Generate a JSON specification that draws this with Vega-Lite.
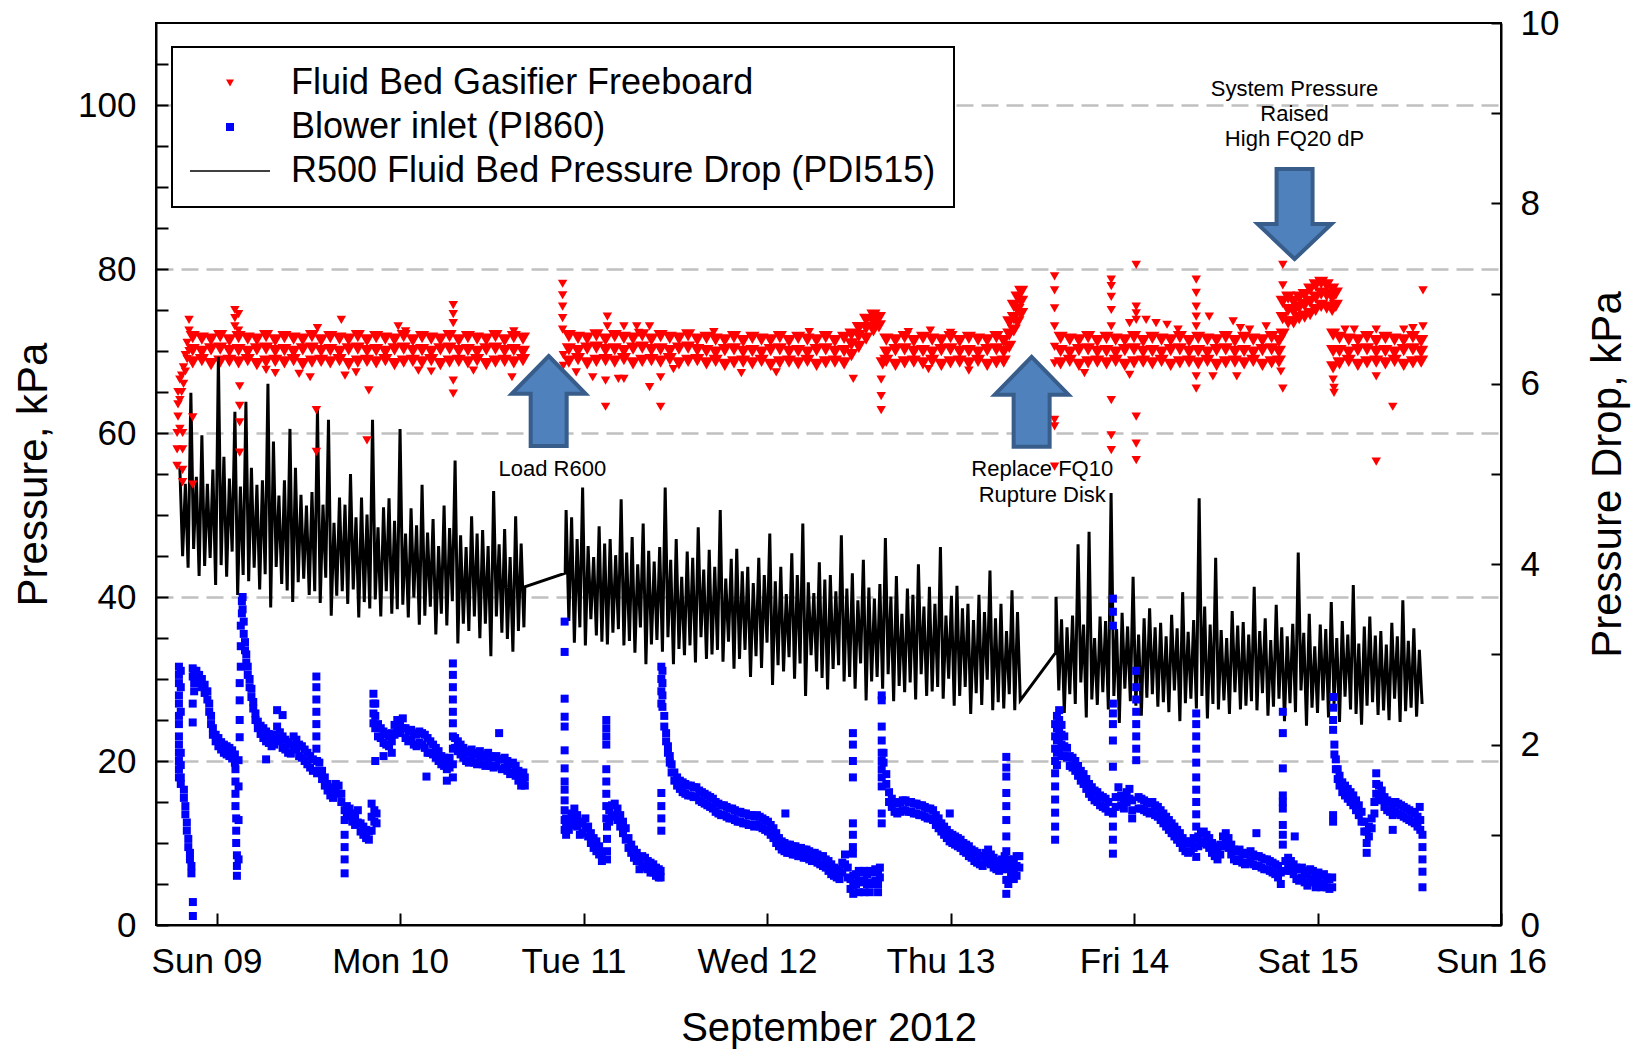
{
"$schema": "https://vega.github.io/schema/vega-lite/v6.json",
"width": 1345,
"height": 902,
"autosize": {"type": "none"},
"padding": {"left": 156, "top": 23, "right": 134, "bottom": 126},
"config": {
  "font": "Liberation Sans",
  "view": {"stroke": "black", "strokeWidth": 2},
  "axis": {"domainColor": "black", "domainWidth": 2, "tickColor": "black", "tickWidth": 2, "labelColor": "black", "titleColor": "black", "labelFontSize": 35, "titleFontSize": 42, "titleFontWeight": "normal", "grid": false, "labelFont": "Liberation Sans", "titleFont": "Liberation Sans", "labelOverlap": false, "labelFlush": false}
},
"datasets": {
"pd": [
{"d":8.800,"p":5.07},{"d":8.815,"p":4.09},{"d":8.830,"p":4.89},{"d":8.845,"p":3.96},{"d":8.860,"p":5.9},{"d":8.875,"p":4.17},{"d":8.890,"p":4.97},{"d":8.905,"p":3.87},{"d":8.920,"p":5.43},{"d":8.935,"p":3.98},{"d":8.950,"p":4.89},{"d":8.965,"p":4.07},{"d":8.980,"p":5.05},{"d":8.995,"p":3.77},{"d":9.010,"p":6.3},{"d":9.025,"p":3.99},{"d":9.040,"p":5.19},{"d":9.055,"p":3.86},{"d":9.070,"p":4.95},{"d":9.085,"p":4.14},{"d":9.100,"p":5.69},{"d":9.115,"p":3.66},{"d":9.130,"p":4.86},{"d":9.145,"p":3.88},{"d":9.160,"p":5.8},{"d":9.175,"p":3.81},{"d":9.190,"p":5.07},{"d":9.205,"p":3.96},{"d":9.220,"p":4.88},{"d":9.235,"p":3.72},{"d":9.250,"p":4.93},{"d":9.265,"p":3.89},{"d":9.280,"p":6.0},{"d":9.295,"p":3.52},{"d":9.310,"p":5.36},{"d":9.325,"p":3.97},{"d":9.340,"p":4.76},{"d":9.355,"p":3.78},{"d":9.370,"p":4.93},{"d":9.385,"p":3.71},{"d":9.400,"p":5.5},{"d":9.415,"p":3.58},{"d":9.430,"p":5.07},{"d":9.445,"p":3.80},{"d":9.460,"p":4.77},{"d":9.475,"p":3.84},{"d":9.490,"p":4.65},{"d":9.505,"p":3.66},{"d":9.520,"p":4.80},{"d":9.535,"p":3.70},{"d":9.550,"p":5.72},{"d":9.565,"p":3.57},{"d":9.580,"p":4.66},{"d":9.595,"p":3.85},{"d":9.610,"p":5.6},{"d":9.625,"p":3.43},{"d":9.640,"p":4.46},{"d":9.655,"p":3.65},{"d":9.670,"p":4.74},{"d":9.685,"p":3.70},{"d":9.700,"p":4.66},{"d":9.715,"p":3.56},{"d":9.730,"p":5.00},{"d":9.745,"p":3.72},{"d":9.760,"p":4.52},{"d":9.775,"p":3.41},{"d":9.790,"p":4.74},{"d":9.805,"p":3.58},{"d":9.820,"p":4.55},{"d":9.835,"p":3.51},{"d":9.850,"p":5.6},{"d":9.865,"p":3.61},{"d":9.880,"p":4.41},{"d":9.895,"p":3.42},{"d":9.910,"p":4.63},{"d":9.925,"p":3.70},{"d":9.940,"p":4.73},{"d":9.955,"p":3.45},{"d":9.970,"p":4.48},{"d":9.985,"p":3.50},{"d":10.000,"p":5.5},{"d":10.015,"p":3.55},{"d":10.030,"p":4.34},{"d":10.045,"p":3.41},{"d":10.060,"p":4.62},{"d":10.075,"p":3.63},{"d":10.090,"p":4.43},{"d":10.105,"p":3.33},{"d":10.120,"p":4.88},{"d":10.135,"p":3.43},{"d":10.150,"p":4.35},{"d":10.165,"p":3.53},{"d":10.180,"p":4.50},{"d":10.195,"p":3.22},{"d":10.210,"p":4.20},{"d":10.225,"p":3.45},{"d":10.240,"p":4.65},{"d":10.255,"p":3.32},{"d":10.270,"p":4.40},{"d":10.285,"p":3.59},{"d":10.300,"p":5.15},{"d":10.315,"p":3.12},{"d":10.330,"p":4.32},{"d":10.345,"p":3.34},{"d":10.360,"p":4.19},{"d":10.375,"p":3.26},{"d":10.390,"p":4.53},{"d":10.405,"p":3.42},{"d":10.420,"p":4.34},{"d":10.435,"p":3.18},{"d":10.450,"p":4.38},{"d":10.465,"p":3.34},{"d":10.480,"p":4.20},{"d":10.495,"p":2.98},{"d":10.510,"p":4.81},{"d":10.525,"p":3.42},{"d":10.540,"p":4.22},{"d":10.555,"p":3.24},{"d":10.570,"p":4.39},{"d":10.585,"p":3.17},{"d":10.600,"p":4.08},{"d":10.615,"p":3.03},{"d":10.630,"p":4.53},{"d":10.645,"p":3.26},{"d":10.660,"p":4.23},{"d":10.675,"p":3.30},{"d":10.680,"p":3.75},
{"d":10.900,"p":3.90},
{"d":10.905,"p":4.60},{"d":10.920,"p":3.37},{"d":10.935,"p":4.52},{"d":10.950,"p":3.13},{"d":10.965,"p":4.28},{"d":10.980,"p":3.30},{"d":10.995,"p":4.85},{"d":11.010,"p":3.10},{"d":11.025,"p":4.20},{"d":11.040,"p":3.39},{"d":11.055,"p":4.08},{"d":11.070,"p":3.21},{"d":11.085,"p":4.42},{"d":11.100,"p":3.14},{"d":11.115,"p":4.23},{"d":11.130,"p":3.11},{"d":11.145,"p":4.28},{"d":11.160,"p":3.24},{"d":11.175,"p":4.10},{"d":11.190,"p":3.28},{"d":11.205,"p":4.72},{"d":11.220,"p":3.10},{"d":11.235,"p":4.13},{"d":11.250,"p":3.15},{"d":11.265,"p":4.30},{"d":11.280,"p":3.02},{"d":11.295,"p":4.00},{"d":11.310,"p":3.30},{"d":11.325,"p":4.45},{"d":11.340,"p":2.89},{"d":11.355,"p":4.15},{"d":11.370,"p":3.11},{"d":11.385,"p":4.03},{"d":11.400,"p":3.16},{"d":11.415,"p":4.19},{"d":11.430,"p":3.03},{"d":11.445,"p":4.85},{"d":11.460,"p":3.19},{"d":11.475,"p":4.05},{"d":11.490,"p":2.89},{"d":11.505,"p":4.28},{"d":11.520,"p":3.06},{"d":11.535,"p":3.86},{"d":11.550,"p":2.99},{"d":11.565,"p":4.14},{"d":11.580,"p":3.10},{"d":11.595,"p":4.07},{"d":11.610,"p":2.91},{"d":11.625,"p":4.41},{"d":11.640,"p":3.19},{"d":11.655,"p":3.94},{"d":11.670,"p":2.95},{"d":11.685,"p":4.16},{"d":11.700,"p":3.00},{"d":11.715,"p":3.97},{"d":11.730,"p":3.05},{"d":11.745,"p":4.60},{"d":11.760,"p":2.92},{"d":11.775,"p":3.84},{"d":11.790,"p":3.14},{"d":11.805,"p":4.06},{"d":11.820,"p":2.84},{"d":11.835,"p":4.17},{"d":11.850,"p":2.95},{"d":11.865,"p":3.92},{"d":11.880,"p":3.05},{"d":11.895,"p":3.97},{"d":11.910,"p":2.75},{"d":11.925,"p":3.79},{"d":11.940,"p":2.98},{"d":11.955,"p":4.07},{"d":11.970,"p":2.85},{"d":11.985,"p":3.88},{"d":12.000,"p":3.13},{"d":12.015,"p":4.34},{"d":12.030,"p":2.66},{"d":12.045,"p":3.81},{"d":12.060,"p":2.88},{"d":12.075,"p":3.97},{"d":12.090,"p":2.81},{"d":12.105,"p":3.67},{"d":12.120,"p":2.97},{"d":12.135,"p":4.12},{"d":12.150,"p":2.73},{"d":12.165,"p":3.88},{"d":12.180,"p":2.90},{"d":12.195,"p":4.45},{"d":12.210,"p":2.54},{"d":12.225,"p":3.80},{"d":12.240,"p":2.99},{"d":12.255,"p":3.68},{"d":12.270,"p":2.81},{"d":12.285,"p":4.02},{"d":12.300,"p":2.74},{"d":12.315,"p":3.83},{"d":12.330,"p":2.61},{"d":12.345,"p":3.88},{"d":12.360,"p":2.84},{"d":12.375,"p":3.70},{"d":12.390,"p":2.88},{"d":12.405,"p":4.32},{"d":12.420,"p":2.70},{"d":12.435,"p":3.73},{"d":12.450,"p":2.75},{"d":12.465,"p":3.90},{"d":12.480,"p":2.62},{"d":12.495,"p":3.60},{"d":12.510,"p":2.90},{"d":12.525,"p":4.05},{"d":12.540,"p":2.49},{"d":12.555,"p":3.74},{"d":12.570,"p":2.70},{"d":12.585,"p":3.62},{"d":12.600,"p":2.75},{"d":12.615,"p":3.78},{"d":12.630,"p":2.62},{"d":12.645,"p":4.29},{"d":12.660,"p":2.78},{"d":12.675,"p":3.64},{"d":12.690,"p":2.48},{"d":12.705,"p":3.87},{"d":12.720,"p":2.65},{"d":12.735,"p":3.45},{"d":12.750,"p":2.58},{"d":12.765,"p":3.73},{"d":12.780,"p":2.69},{"d":12.795,"p":3.66},{"d":12.810,"p":2.50},{"d":12.825,"p":4.00},{"d":12.840,"p":2.78},{"d":12.855,"p":3.53},{"d":12.870,"p":2.54},{"d":12.885,"p":3.75},{"d":12.900,"p":2.59},{"d":12.915,"p":3.56},{"d":12.930,"p":2.64},{"d":12.945,"p":4.19},{"d":12.960,"p":2.51},{"d":12.975,"p":3.43},{"d":12.990,"p":2.73},{"d":13.005,"p":3.65},{"d":13.020,"p":2.43},{"d":13.035,"p":3.76},{"d":13.050,"p":2.54},{"d":13.065,"p":3.51},{"d":13.080,"p":2.64},{"d":13.095,"p":3.56},{"d":13.110,"p":2.34},{"d":13.125,"p":3.38},{"d":13.140,"p":2.57},{"d":13.155,"p":3.66},{"d":13.170,"p":2.44},{"d":13.185,"p":3.47},{"d":13.200,"p":2.72},{"d":13.215,"p":3.93},{"d":13.230,"p":2.38},{"d":13.245,"p":3.40},{"d":13.260,"p":2.47},{"d":13.275,"p":3.56},{"d":13.290,"p":2.40},{"d":13.305,"p":3.26},{"d":13.320,"p":2.56},{"d":13.335,"p":3.71},{"d":13.350,"p":2.38},{"d":13.365,"p":3.47},{"d":13.380,"p":2.49},
{"d":13.573,"p":3.02},
{"d":13.575,"p":3.64},{"d":13.590,"p":2.60},{"d":13.605,"p":3.39},{"d":13.620,"p":2.35},{"d":13.635,"p":3.30},{"d":13.650,"p":2.56},{"d":13.665,"p":3.43},{"d":13.680,"p":2.45},{"d":13.695,"p":4.22},{"d":13.710,"p":2.69},{"d":13.725,"p":3.33},{"d":13.740,"p":2.30},{"d":13.755,"p":4.36},{"d":13.770,"p":2.50},{"d":13.785,"p":3.18},{"d":13.800,"p":2.44},{"d":13.815,"p":3.42},{"d":13.830,"p":2.58},{"d":13.845,"p":3.37},{"d":13.860,"p":2.39},{"d":13.875,"p":4.79},{"d":13.890,"p":2.54},{"d":13.905,"p":3.28},{"d":13.920,"p":2.24},{"d":13.935,"p":3.46},{"d":13.950,"p":2.62},{"d":13.965,"p":3.31},{"d":13.980,"p":2.48},{"d":13.995,"p":3.86},{"d":14.010,"p":2.43},{"d":14.025,"p":3.22},{"d":14.040,"p":2.32},{"d":14.055,"p":3.40},{"d":14.070,"p":2.52},{"d":14.085,"p":3.51},{"d":14.100,"p":2.56},{"d":14.115,"p":3.30},{"d":14.130,"p":2.42},{"d":14.145,"p":3.35},{"d":14.160,"p":2.47},{"d":14.175,"p":3.20},{"d":14.190,"p":2.36},{"d":14.205,"p":3.44},{"d":14.220,"p":2.60},{"d":14.235,"p":3.29},{"d":14.250,"p":2.26},{"d":14.265,"p":3.69},{"d":14.280,"p":2.46},{"d":14.295,"p":3.25},{"d":14.310,"p":2.51},{"d":14.325,"p":3.38},{"d":14.340,"p":2.40},{"d":14.355,"p":4.73},{"d":14.370,"p":2.54},{"d":14.385,"p":3.53},{"d":14.400,"p":2.29},{"d":14.415,"p":3.33},{"d":14.430,"p":2.45},{"d":14.445,"p":4.07},{"d":14.460,"p":2.39},{"d":14.475,"p":3.27},{"d":14.490,"p":2.49},{"d":14.505,"p":3.18},{"d":14.520,"p":2.34},{"d":14.535,"p":3.48},{"d":14.550,"p":2.58},{"d":14.565,"p":3.32},{"d":14.580,"p":2.39},{"d":14.595,"p":3.36},{"d":14.610,"p":2.43},{"d":14.625,"p":3.22},{"d":14.640,"p":2.48},{"d":14.655,"p":3.75},{"d":14.670,"p":2.38},{"d":14.685,"p":3.26},{"d":14.700,"p":2.57},{"d":14.715,"p":3.40},{"d":14.730,"p":2.32},{"d":14.745,"p":3.16},{"d":14.760,"p":2.42},{"d":14.775,"p":3.55},{"d":14.790,"p":2.51},{"d":14.805,"p":3.30},{"d":14.820,"p":2.26},{"d":14.835,"p":3.20},{"d":14.850,"p":2.46},{"d":14.865,"p":3.34},{"d":14.880,"p":2.36},{"d":14.895,"p":4.13},{"d":14.910,"p":2.60},{"d":14.925,"p":3.24},{"d":14.940,"p":2.21},{"d":14.955,"p":3.45},{"d":14.970,"p":2.41},{"d":14.985,"p":3.09},{"d":15.000,"p":2.35},{"d":15.015,"p":3.33},{"d":15.030,"p":2.49},{"d":15.045,"p":3.28},{"d":15.060,"p":2.30},{"d":15.075,"p":3.58},{"d":15.090,"p":2.45},{"d":15.105,"p":3.18},{"d":15.120,"p":2.25},{"d":15.135,"p":3.37},{"d":15.150,"p":2.53},{"d":15.165,"p":3.22},{"d":15.180,"p":2.39},{"d":15.195,"p":3.77},{"d":15.210,"p":2.34},{"d":15.225,"p":3.12},{"d":15.240,"p":2.22},{"d":15.255,"p":3.31},{"d":15.270,"p":2.43},{"d":15.285,"p":3.42},{"d":15.300,"p":2.47},{"d":15.315,"p":3.21},{"d":15.330,"p":2.33},{"d":15.345,"p":3.26},{"d":15.360,"p":2.38},{"d":15.375,"p":3.11},{"d":15.390,"p":2.27},{"d":15.405,"p":3.35},{"d":15.420,"p":2.51},{"d":15.435,"p":3.20},{"d":15.450,"p":2.25},{"d":15.465,"p":3.60},{"d":15.480,"p":2.37},{"d":15.495,"p":3.15},{"d":15.510,"p":2.41},{"d":15.525,"p":3.29},{"d":15.540,"p":2.31},{"d":15.555,"p":3.05},{"d":15.570,"p":2.45}
],
"redband": [
{"d":8.87,"v":68.6},{"d":8.87,"v":70.1},{"d":8.87,"v":71.7},{"d":8.92,"v":68.9},{"d":8.92,"v":69.9},{"d":8.92,"v":71.5},{"d":8.97,"v":68.4},{"d":8.97,"v":70.2},{"d":8.97,"v":71.4},{"d":9.02,"v":68.7},{"d":9.02,"v":70.3},{"d":9.02,"v":71.8},{"d":9.07,"v":68.8},{"d":9.07,"v":70},{"d":9.07,"v":71.3},
{"d":9.12,"v":68.6},{"d":9.12,"v":70.1},{"d":9.12,"v":71.7},{"d":9.17,"v":68.9},{"d":9.17,"v":69.9},{"d":9.17,"v":71.5},{"d":9.22,"v":68.4},{"d":9.22,"v":70.2},{"d":9.22,"v":71.4},{"d":9.27,"v":68.7},{"d":9.27,"v":70.3},{"d":9.27,"v":71.8},{"d":9.32,"v":68.8},{"d":9.32,"v":70},{"d":9.32,"v":71.3},
{"d":9.37,"v":68.6},{"d":9.37,"v":70.1},{"d":9.37,"v":71.7},{"d":9.42,"v":68.9},{"d":9.42,"v":69.9},{"d":9.42,"v":71.5},{"d":9.47,"v":68.4},{"d":9.47,"v":70.2},{"d":9.47,"v":71.4},{"d":9.52,"v":68.7},{"d":9.52,"v":70.3},{"d":9.52,"v":71.8},{"d":9.57,"v":68.8},{"d":9.57,"v":70},{"d":9.57,"v":71.3},
{"d":9.62,"v":68.6},{"d":9.62,"v":70.1},{"d":9.62,"v":71.7},{"d":9.67,"v":68.9},{"d":9.67,"v":69.9},{"d":9.67,"v":71.5},{"d":9.72,"v":68.4},{"d":9.72,"v":70.2},{"d":9.72,"v":71.4},{"d":9.77,"v":68.7},{"d":9.77,"v":70.3},{"d":9.77,"v":71.8},{"d":9.82,"v":68.8},{"d":9.82,"v":70},{"d":9.82,"v":71.3},
{"d":9.87,"v":68.6},{"d":9.87,"v":70.1},{"d":9.87,"v":71.7},{"d":9.92,"v":68.9},{"d":9.92,"v":69.9},{"d":9.92,"v":71.5},{"d":9.97,"v":68.4},{"d":9.97,"v":70.2},{"d":9.97,"v":71.4},{"d":10.02,"v":68.7},{"d":10.02,"v":70.3},{"d":10.02,"v":71.8},{"d":10.07,"v":68.8},{"d":10.07,"v":70},{"d":10.07,"v":71.3},
{"d":10.12,"v":68.6},{"d":10.12,"v":70.1},{"d":10.12,"v":71.7},{"d":10.17,"v":68.9},{"d":10.17,"v":69.9},{"d":10.17,"v":71.5},{"d":10.22,"v":68.4},{"d":10.22,"v":70.2},{"d":10.22,"v":71.4},{"d":10.27,"v":68.7},{"d":10.27,"v":70.3},{"d":10.27,"v":71.8},{"d":10.32,"v":68.8},{"d":10.32,"v":70},{"d":10.32,"v":71.3},
{"d":10.37,"v":68.6},{"d":10.37,"v":70.1},{"d":10.37,"v":71.7},{"d":10.42,"v":68.9},{"d":10.42,"v":69.9},{"d":10.42,"v":71.5},{"d":10.47,"v":68.4},{"d":10.47,"v":70.2},{"d":10.47,"v":71.4},{"d":10.52,"v":68.7},{"d":10.52,"v":70.3},{"d":10.52,"v":71.8},{"d":10.57,"v":68.8},{"d":10.57,"v":70},{"d":10.57,"v":71.3},
{"d":10.62,"v":68.6},{"d":10.62,"v":70.1},{"d":10.62,"v":71.7},{"d":10.67,"v":68.9},{"d":10.67,"v":69.9},{"d":10.67,"v":71.5},
{"d":10.92,"v":68.7},{"d":10.92,"v":70.2},{"d":10.92,"v":71.8},{"d":10.97,"v":69},{"d":10.97,"v":70},{"d":10.97,"v":71.6},{"d":11.02,"v":68.5},{"d":11.02,"v":70.3},{"d":11.02,"v":71.5},{"d":11.07,"v":68.8},{"d":11.07,"v":70.4},{"d":11.07,"v":71.9},{"d":11.12,"v":68.9},{"d":11.12,"v":70.1},{"d":11.12,"v":71.4},
{"d":11.17,"v":68.7},{"d":11.17,"v":70.2},{"d":11.17,"v":71.8},{"d":11.22,"v":69},{"d":11.22,"v":70},{"d":11.22,"v":71.6},{"d":11.27,"v":68.5},{"d":11.27,"v":70.3},{"d":11.27,"v":71.5},{"d":11.32,"v":68.8},{"d":11.32,"v":70.4},{"d":11.32,"v":71.9},{"d":11.37,"v":68.9},{"d":11.37,"v":70.1},{"d":11.37,"v":71.4},
{"d":11.42,"v":68.7},{"d":11.42,"v":70.2},{"d":11.42,"v":71.8},{"d":11.47,"v":69},{"d":11.47,"v":70},{"d":11.47,"v":71.6},{"d":11.52,"v":68.5},{"d":11.52,"v":70.3},{"d":11.52,"v":71.5},{"d":11.57,"v":68.8},{"d":11.57,"v":70.4},{"d":11.57,"v":71.9},{"d":11.62,"v":68.9},{"d":11.62,"v":70.1},{"d":11.62,"v":71.4},
{"d":11.67,"v":68.5},{"d":11.67,"v":70},{"d":11.67,"v":71.6},{"d":11.72,"v":68.8},{"d":11.72,"v":69.8},{"d":11.72,"v":71.4},{"d":11.77,"v":68.3},{"d":11.77,"v":70.1},{"d":11.77,"v":71.3},{"d":11.82,"v":68.6},{"d":11.82,"v":70.2},{"d":11.82,"v":71.7},{"d":11.87,"v":68.7},{"d":11.87,"v":69.9},{"d":11.87,"v":71.2},
{"d":11.92,"v":68.5},{"d":11.92,"v":70},{"d":11.92,"v":71.6},{"d":11.97,"v":68.8},{"d":11.97,"v":69.8},{"d":11.97,"v":71.4},{"d":12.02,"v":68.3},{"d":12.02,"v":70.1},{"d":12.02,"v":71.3},{"d":12.07,"v":68.6},{"d":12.07,"v":70.2},{"d":12.07,"v":71.7},{"d":12.12,"v":68.7},{"d":12.12,"v":69.9},{"d":12.12,"v":71.2},
{"d":12.17,"v":68.5},{"d":12.17,"v":70},{"d":12.17,"v":71.6},{"d":12.22,"v":68.8},{"d":12.22,"v":69.8},{"d":12.22,"v":71.4},{"d":12.27,"v":68.3},{"d":12.27,"v":70.1},{"d":12.27,"v":71.3},{"d":12.32,"v":68.6},{"d":12.32,"v":70.2},{"d":12.32,"v":71.7},{"d":12.37,"v":68.7},{"d":12.37,"v":69.9},{"d":12.37,"v":71.2},{"d":12.42,"v":68.5},{"d":12.42,"v":70},{"d":12.42,"v":71.6},
{"d":12.46,"v":69.5},{"d":12.46,"v":70.8},{"d":12.46,"v":72},{"d":12.5,"v":70.5},{"d":12.5,"v":71.8},{"d":12.5,"v":72.8},{"d":12.54,"v":71.5},{"d":12.54,"v":72.8},{"d":12.54,"v":73.8},{"d":12.58,"v":72.5},{"d":12.58,"v":73.5},{"d":12.58,"v":74.3},{"d":12.61,"v":73},{"d":12.61,"v":74},{"d":12.63,"v":68.5},
{"d":12.65,"v":68.8},{"d":12.65,"v":69.8},{"d":12.65,"v":71.4},{"d":12.7,"v":68.3},{"d":12.7,"v":70.1},{"d":12.7,"v":71.3},{"d":12.75,"v":68.6},{"d":12.75,"v":70.2},{"d":12.75,"v":71.7},{"d":12.8,"v":68.7},{"d":12.8,"v":69.9},{"d":12.8,"v":71.2},{"d":12.85,"v":68.5},{"d":12.85,"v":70},{"d":12.85,"v":71.6},
{"d":12.9,"v":68.8},{"d":12.9,"v":69.8},{"d":12.9,"v":71.4},{"d":12.95,"v":68.3},{"d":12.95,"v":70.1},{"d":12.95,"v":71.3},{"d":13,"v":68.6},{"d":13,"v":70.2},{"d":13,"v":71.7},{"d":13.05,"v":68.7},{"d":13.05,"v":69.9},{"d":13.05,"v":71.2},{"d":13.1,"v":68.5},{"d":13.1,"v":70},{"d":13.1,"v":71.6},
{"d":13.15,"v":68.8},{"d":13.15,"v":69.8},{"d":13.15,"v":71.4},{"d":13.2,"v":68.3},{"d":13.2,"v":70.1},{"d":13.2,"v":71.3},{"d":13.25,"v":68.6},{"d":13.25,"v":70.2},{"d":13.25,"v":71.7},{"d":13.29,"v":68.7},{"d":13.29,"v":69.9},{"d":13.29,"v":71.2},
{"d":13.32,"v":70.5},{"d":13.32,"v":72},{"d":13.32,"v":73.5},{"d":13.345,"v":72.5},{"d":13.345,"v":74},{"d":13.345,"v":75.5},{"d":13.365,"v":73.5},{"d":13.365,"v":75},{"d":13.365,"v":76.5},{"d":13.385,"v":74.5},{"d":13.385,"v":76},{"d":13.385,"v":77.2},
{"d":13.6,"v":68.5},{"d":13.6,"v":70},{"d":13.6,"v":71.6},{"d":13.65,"v":68.8},{"d":13.65,"v":69.8},{"d":13.65,"v":71.4},{"d":13.7,"v":68.3},{"d":13.7,"v":70.1},{"d":13.7,"v":71.3},{"d":13.75,"v":68.6},{"d":13.75,"v":70.2},{"d":13.75,"v":71.7},{"d":13.8,"v":68.7},{"d":13.8,"v":69.9},{"d":13.8,"v":71.2},
{"d":13.85,"v":68.5},{"d":13.85,"v":70},{"d":13.85,"v":71.6},{"d":13.9,"v":68.8},{"d":13.9,"v":69.8},{"d":13.9,"v":71.4},{"d":13.95,"v":68.3},{"d":13.95,"v":70.1},{"d":13.95,"v":71.3},{"d":14,"v":68.6},{"d":14,"v":70.2},{"d":14,"v":71.7},{"d":14.05,"v":68.7},{"d":14.05,"v":69.9},{"d":14.05,"v":71.2},
{"d":14.1,"v":68.5},{"d":14.1,"v":70},{"d":14.1,"v":71.6},{"d":14.15,"v":68.8},{"d":14.15,"v":69.8},{"d":14.15,"v":71.4},{"d":14.2,"v":68.3},{"d":14.2,"v":70.1},{"d":14.2,"v":71.3},{"d":14.25,"v":68.6},{"d":14.25,"v":70.2},{"d":14.25,"v":71.7},{"d":14.3,"v":68.7},{"d":14.3,"v":69.9},{"d":14.3,"v":71.2},
{"d":14.35,"v":68.5},{"d":14.35,"v":70},{"d":14.35,"v":71.6},{"d":14.4,"v":68.8},{"d":14.4,"v":69.8},{"d":14.4,"v":71.4},{"d":14.45,"v":68.3},{"d":14.45,"v":70.1},{"d":14.45,"v":71.3},{"d":14.5,"v":68.6},{"d":14.5,"v":70.2},{"d":14.5,"v":71.7},{"d":14.55,"v":68.7},{"d":14.55,"v":69.9},{"d":14.55,"v":71.2},
{"d":14.6,"v":68.5},{"d":14.6,"v":70},{"d":14.6,"v":71.6},{"d":14.65,"v":68.8},{"d":14.65,"v":69.8},{"d":14.65,"v":71.4},{"d":14.7,"v":68.3},{"d":14.7,"v":70.1},{"d":14.7,"v":71.3},{"d":14.75,"v":68.6},{"d":14.75,"v":70.2},{"d":14.75,"v":71.7},{"d":14.79,"v":68.7},{"d":14.79,"v":69.9},{"d":14.79,"v":71.2},
{"d":14.81,"v":72},{"d":14.81,"v":74},{"d":14.81,"v":76},{"d":14.84,"v":73.5},{"d":14.84,"v":75},{"d":14.84,"v":76.5},{"d":14.87,"v":73.5},{"d":14.87,"v":74.8},{"d":14.87,"v":76},{"d":14.9,"v":74},{"d":14.9,"v":75.3},{"d":14.9,"v":76.5},{"d":14.93,"v":74.2},{"d":14.93,"v":75.6},{"d":14.93,"v":76.8},{"d":14.96,"v":74.5},{"d":14.96,"v":76},{"d":14.96,"v":77.5},{"d":14.99,"v":75},{"d":14.99,"v":76.5},{"d":14.99,"v":78},{"d":15.02,"v":75.5},{"d":15.02,"v":77},{"d":15.02,"v":78.3},{"d":15.05,"v":75.3},{"d":15.05,"v":76.8},{"d":15.05,"v":78},{"d":15.08,"v":75},{"d":15.08,"v":76.5},{"d":15.08,"v":77.5},{"d":15.1,"v":75.5},{"d":15.1,"v":77},
{"d":15.085,"v":72},{"d":15.085,"v":70},{"d":15.085,"v":68},
{"d":15.12,"v":68.5},{"d":15.12,"v":70},{"d":15.12,"v":71.6},{"d":15.17,"v":68.8},{"d":15.17,"v":69.8},{"d":15.17,"v":71.4},{"d":15.22,"v":68.3},{"d":15.22,"v":70.1},{"d":15.22,"v":71.3},{"d":15.27,"v":68.6},{"d":15.27,"v":70.2},{"d":15.27,"v":71.7},{"d":15.32,"v":68.7},{"d":15.32,"v":69.9},{"d":15.32,"v":71.2},
{"d":15.37,"v":68.5},{"d":15.37,"v":70},{"d":15.37,"v":71.6},{"d":15.42,"v":68.8},{"d":15.42,"v":69.8},{"d":15.42,"v":71.4},{"d":15.47,"v":68.3},{"d":15.47,"v":70.1},{"d":15.47,"v":71.3},{"d":15.52,"v":68.6},{"d":15.52,"v":70.2},{"d":15.52,"v":71.7},{"d":15.565,"v":68.7},{"d":15.565,"v":69.9},{"d":15.565,"v":71.2}
],
"redout": [
{"d":8.785,"v":56},{"d":8.785,"v":58},{"d":8.785,"v":60},{"d":8.79,"v":62},{"d":8.79,"v":63.5},{"d":8.79,"v":65},{"d":8.8,"v":60.5},{"d":8.8,"v":64},{"d":8.8,"v":66.5},{"d":8.815,"v":60},{"d":8.815,"v":58},{"d":8.815,"v":55.5},{"d":8.815,"v":54},{"d":8.81,"v":67},{"d":8.81,"v":65},{"d":8.82,"v":68},{"d":8.82,"v":66},{"d":8.83,"v":69.5},{"d":8.83,"v":67.5},{"d":8.84,"v":71},{"d":8.84,"v":69},{"d":8.85,"v":72.5},{"d":8.85,"v":73.8},{"d":8.85,"v":70},{"d":8.87,"v":53.7},{"d":8.87,"v":61.9},
{"d":9.1,"v":75},{"d":9.1,"v":74},{"d":9.1,"v":73},{"d":9.12,"v":74.5},{"d":9.12,"v":72.5},{"d":9.126,"v":65.7},{"d":9.126,"v":63.3},{"d":9.126,"v":61.3},{"d":9.126,"v":57.6},{"d":9.27,"v":67.7},{"d":9.32,"v":67.3},{"d":9.45,"v":67.2},{"d":9.51,"v":66.8},{"d":9.544,"v":62.8},{"d":9.544,"v":57.7},{"d":9.55,"v":72.8},{"d":9.68,"v":73.8},{"d":9.7,"v":67},{"d":9.76,"v":67.4},{"d":9.82,"v":59.1},{"d":9.83,"v":65.2},{"d":9.99,"v":73},{"d":10.03,"v":72.4},{"d":10.1,"v":67.6},{"d":10.17,"v":67.5},{"d":10.29,"v":75.6},{"d":10.29,"v":74.5},{"d":10.29,"v":73.4},{"d":10.29,"v":66.4},{"d":10.29,"v":64.8},{"d":10.4,"v":67.6},{"d":10.61,"v":66.8},{"d":10.62,"v":72.4},
{"d":10.886,"v":78.2},{"d":10.886,"v":76.8},{"d":10.886,"v":75.4},{"d":10.886,"v":74},{"d":10.886,"v":72.6},{"d":10.89,"v":69.5},{"d":10.89,"v":68.2},
{"d":10.96,"v":67.4},{"d":11.05,"v":66.8},{"d":11.12,"v":66.4},{"d":11.12,"v":63.2},{"d":11.13,"v":74.2},{"d":11.13,"v":73},{"d":11.19,"v":66.6},{"d":11.22,"v":66.6},{"d":11.22,"v":73},{"d":11.29,"v":73},{"d":11.3,"v":72.2},{"d":11.36,"v":73},{"d":11.36,"v":65.6},{"d":11.42,"v":66.8},{"d":11.42,"v":63.2},{"d":11.49,"v":67.8},{"d":11.71,"v":72.3},{"d":11.86,"v":67.3},{"d":12.05,"v":67.4},{"d":12.23,"v":72.3},{"d":12.47,"v":66.6},
{"d":12.622,"v":66.5},{"d":12.622,"v":64.5},{"d":12.622,"v":62.8},
{"d":12.77,"v":72.3},{"d":12.88,"v":67.8},{"d":12.89,"v":72.5},{"d":13,"v":72.2},{"d":13.1,"v":67.6},
{"d":13.567,"v":79.1},{"d":13.567,"v":77.4},{"d":13.567,"v":75.2},{"d":13.567,"v":73},{"d":13.567,"v":70.5},{"d":13.567,"v":68.5},{"d":13.567,"v":61.6},{"d":13.567,"v":60.8},{"d":13.567,"v":55.9},
{"d":13.73,"v":67.3},{"d":13.876,"v":78.7},{"d":13.876,"v":77.9},{"d":13.876,"v":76.6},{"d":13.876,"v":75},{"d":13.876,"v":73},{"d":13.876,"v":64},{"d":13.876,"v":59.7},{"d":13.876,"v":57.9},{"d":13.976,"v":73.4},{"d":13.976,"v":67.1},{"d":14.012,"v":80.5},{"d":14.012,"v":75.4},{"d":14.012,"v":74.6},{"d":14.012,"v":73.8},{"d":14.012,"v":62},{"d":14.012,"v":58.7},{"d":14.012,"v":56.7},{"d":14.066,"v":73.8},{"d":14.12,"v":73.4},{"d":14.18,"v":73.2},{"d":14.24,"v":72.6},{"d":14.339,"v":78.7},{"d":14.339,"v":77.1},{"d":14.339,"v":75.4},{"d":14.339,"v":74.2},{"d":14.339,"v":73},{"d":14.339,"v":66.9},{"d":14.339,"v":65.4},{"d":14.41,"v":74.2},{"d":14.43,"v":66.9},{"d":14.54,"v":73.6},{"d":14.56,"v":66.9},{"d":14.58,"v":72.8},{"d":14.63,"v":72.6},{"d":14.72,"v":73},{"d":14.8,"v":67.5},{"d":14.811,"v":80.5},{"d":14.811,"v":78},{"d":14.811,"v":65.4},
{"d":15.085,"v":66.5},{"d":15.09,"v":65.5},{"d":15.09,"v":64.9},
{"d":15.15,"v":72.6},{"d":15.2,"v":72.6},{"d":15.32,"v":66.9},{"d":15.32,"v":56.5},{"d":15.32,"v":72.6},{"d":15.41,"v":63.2},{"d":15.47,"v":72.6},{"d":15.52,"v":72.8},{"d":15.575,"v":77.4},{"d":15.575,"v":73}
],
"blue": [
{"d":8.795,"v":31.5},{"d":8.795,"v":30.5},{"d":8.795,"v":29.5},{"d":8.795,"v":28},{"d":8.795,"v":27},{"d":8.795,"v":25.5},{"d":8.795,"v":24.5},{"d":8.795,"v":23},{"d":8.795,"v":22},{"d":8.795,"v":21},{"d":8.795,"v":20},{"d":8.795,"v":19},{"d":8.795,"v":18},{"d":8.805,"v":31},{"d":8.805,"v":29},{"d":8.805,"v":26},{"d":8.805,"v":21},{"d":8.805,"v":19.5},{"d":8.805,"v":18},{"d":8.805,"v":17.2},{"d":8.822,"v":16.5},{"d":8.822,"v":15.5},{"d":8.83,"v":14.5},{"d":8.83,"v":13.5},{"d":8.838,"v":12.5},{"d":8.838,"v":11.5},{"d":8.846,"v":10.5},{"d":8.846,"v":9.5},{"d":8.855,"v":8.8},{"d":8.855,"v":8},{"d":8.863,"v":7.2},{"d":8.863,"v":6.3},{"d":8.871,"v":2.8},{"d":8.871,"v":1.1},
{"d":8.87,"v":31.3},{"d":8.87,"v":30.3},{"d":8.87,"v":27},{"d":8.87,"v":24.7},{"d":8.878,"v":31},{"d":8.878,"v":29.5},{"d":8.878,"v":28.5},{"d":8.89,"v":31},{"d":8.89,"v":30.2},{"d":8.905,"v":30.5},{"d":8.905,"v":29.6},{"d":8.92,"v":30},{"d":8.92,"v":29},{"d":8.935,"v":29.3},{"d":8.935,"v":28.3},{"d":8.95,"v":28.5},{"d":8.95,"v":27.5},{"d":8.96,"v":27},{"d":8.96,"v":26},{"d":8.97,"v":25.5},{"d":8.97,"v":24.5},{"d":8.98,"v":24},{"d":8.98,"v":23.2},{"d":8.995,"v":23.2},{"d":8.995,"v":22.4},{"d":9.01,"v":22.8},{"d":9.01,"v":21.8},{"d":9.025,"v":22.3},{"d":9.025,"v":21.4},{"d":9.04,"v":22},{"d":9.04,"v":21},{"d":9.055,"v":21.8},{"d":9.055,"v":20.8},{"d":9.07,"v":21.6},{"d":9.07,"v":20.6},{"d":9.085,"v":21.3},{"d":9.085,"v":20.3},{"d":9.1,"v":20.8},{"d":9.1,"v":19.8},
{"d":9.103,"v":19},{"d":9.103,"v":17.5},{"d":9.103,"v":16},{"d":9.103,"v":14.5},{"d":9.107,"v":13},{"d":9.107,"v":11.5},{"d":9.107,"v":10},{"d":9.111,"v":8.5},{"d":9.111,"v":7.2},{"d":9.111,"v":6},{"d":9.12,"v":8},{"d":9.12,"v":12.8},{"d":9.12,"v":16.9},{"d":9.12,"v":20.1},{"d":9.126,"v":22.9},{"d":9.126,"v":25},{"d":9.126,"v":27.4},{"d":9.126,"v":29.5},{"d":9.132,"v":31.5},{"d":9.132,"v":34},{"d":9.132,"v":36.5},{"d":9.138,"v":38},{"d":9.138,"v":39.5},{"d":9.142,"v":40},{"d":9.142,"v":38.5},
{"d":9.148,"v":37},{"d":9.148,"v":35.5},{"d":9.155,"v":34.5},{"d":9.155,"v":33.5},{"d":9.162,"v":33},{"d":9.162,"v":32},{"d":9.17,"v":31.5},{"d":9.17,"v":30.5},{"d":9.18,"v":30},{"d":9.18,"v":29},{"d":9.19,"v":28.8},{"d":9.19,"v":27.8},{"d":9.2,"v":27.2},{"d":9.2,"v":26.4},{"d":9.212,"v":25.8},{"d":9.212,"v":25},{"d":9.225,"v":24.8},{"d":9.225,"v":24},{"d":9.24,"v":24.3},{"d":9.24,"v":23.3},{"d":9.255,"v":24},{"d":9.255,"v":22.8},{"d":9.27,"v":23.6},{"d":9.27,"v":22.4},{"d":9.27,"v":20.2},{"d":9.285,"v":23.3},{"d":9.285,"v":22.2},{"d":9.3,"v":22.9},{"d":9.3,"v":21.8},{"d":9.315,"v":23.2},{"d":9.315,"v":22},{"d":9.33,"v":24.2},{"d":9.33,"v":22.8},{"d":9.33,"v":26.2},{"d":9.345,"v":23.5},{"d":9.345,"v":22.4},{"d":9.36,"v":23},{"d":9.36,"v":21.6},{"d":9.36,"v":25.6},{"d":9.375,"v":22.6},{"d":9.375,"v":21.4},{"d":9.39,"v":22.3},{"d":9.39,"v":21},{"d":9.405,"v":22},{"d":9.405,"v":20.9},{"d":9.42,"v":23},{"d":9.42,"v":21.8},{"d":9.435,"v":22.6},{"d":9.435,"v":21.4},{"d":9.45,"v":22},{"d":9.45,"v":20.6},{"d":9.465,"v":21.8},{"d":9.465,"v":20.4},{"d":9.48,"v":21.4},{"d":9.48,"v":20},{"d":9.495,"v":21},{"d":9.495,"v":19.6},{"d":9.51,"v":20.6},{"d":9.51,"v":19.2},{"d":9.525,"v":20.2},{"d":9.525,"v":18.8},
{"d":9.544,"v":30.3},{"d":9.544,"v":29},{"d":9.544,"v":27.5},{"d":9.544,"v":26},{"d":9.544,"v":24.5},{"d":9.544,"v":23},{"d":9.544,"v":21.5},{"d":9.548,"v":20},{"d":9.548,"v":18.5},
{"d":9.56,"v":19.8},{"d":9.56,"v":18.8},{"d":9.575,"v":18.8},{"d":9.575,"v":17.8},{"d":9.59,"v":18},{"d":9.59,"v":17},{"d":9.605,"v":17.2},{"d":9.605,"v":16.4},{"d":9.62,"v":16.8},{"d":9.62,"v":15.8},{"d":9.635,"v":16.5},{"d":9.635,"v":15.5},{"d":9.65,"v":17.2},{"d":9.65,"v":16.2},{"d":9.665,"v":17},{"d":9.665,"v":16},{"d":9.68,"v":16},{"d":9.68,"v":15},{"d":9.698,"v":14},{"d":9.698,"v":12.8},{"d":9.698,"v":11},{"d":9.698,"v":9.5},{"d":9.698,"v":8},{"d":9.698,"v":6.3},{"d":9.71,"v":14.5},{"d":9.71,"v":13.5},{"d":9.725,"v":14.2},{"d":9.725,"v":13.2},{"d":9.74,"v":13.6},{"d":9.74,"v":12.6},{"d":9.755,"v":13.2},{"d":9.755,"v":12.2},{"d":9.77,"v":14},{"d":9.77,"v":12.5},{"d":9.785,"v":12.4},{"d":9.785,"v":11.4},{"d":9.8,"v":12},{"d":9.8,"v":11},{"d":9.815,"v":11.6},{"d":9.815,"v":10.6},{"d":9.83,"v":11.4},{"d":9.83,"v":10.4},{"d":9.845,"v":14.8},{"d":9.845,"v":13.2},{"d":9.845,"v":11.5},{"d":9.86,"v":14},{"d":9.86,"v":12.6},{"d":9.872,"v":13.6},{"d":9.872,"v":12.4},
{"d":9.855,"v":28.2},{"d":9.855,"v":27},{"d":9.855,"v":25.8},{"d":9.855,"v":24.6},{"d":9.865,"v":27},{"d":9.865,"v":25.5},{"d":9.865,"v":24},{"d":9.865,"v":20},{"d":9.88,"v":24.5},{"d":9.88,"v":23},{"d":9.895,"v":24},{"d":9.895,"v":22.8},{"d":9.91,"v":23.6},{"d":9.91,"v":22.2},{"d":9.91,"v":20.6},{"d":9.925,"v":23.3},{"d":9.925,"v":22},{"d":9.94,"v":23},{"d":9.94,"v":21.8},{"d":9.955,"v":23.4},{"d":9.955,"v":22.4},{"d":9.955,"v":21},{"d":9.97,"v":24.4},{"d":9.97,"v":23.2},{"d":9.985,"v":25},{"d":9.985,"v":23.8},{"d":10,"v":24.6},{"d":10,"v":23.4},{"d":10.015,"v":25.2},{"d":10.015,"v":24},{"d":10.03,"v":24},{"d":10.03,"v":22.8},{"d":10.045,"v":23.6},{"d":10.045,"v":22.4},{"d":10.06,"v":23.8},{"d":10.06,"v":22.6},{"d":10.075,"v":23.4},{"d":10.075,"v":22},{"d":10.09,"v":23.2},{"d":10.09,"v":21.8},{"d":10.105,"v":23.6},{"d":10.105,"v":22.2},{"d":10.12,"v":23.4},{"d":10.12,"v":22},{"d":10.135,"v":23.2},{"d":10.135,"v":21.6},{"d":10.144,"v":18.1},{"d":10.15,"v":22.8},{"d":10.15,"v":21},{"d":10.165,"v":22.4},{"d":10.165,"v":21},{"d":10.18,"v":22},{"d":10.18,"v":20.8},{"d":10.195,"v":21.6},{"d":10.195,"v":20.4},{"d":10.21,"v":21.2},{"d":10.21,"v":20},{"d":10.225,"v":20.6},{"d":10.225,"v":19.6},{"d":10.24,"v":20.4},{"d":10.24,"v":19.4},{"d":10.255,"v":20},{"d":10.255,"v":19},{"d":10.255,"v":17.6},
{"d":10.288,"v":31.9},{"d":10.288,"v":30.5},{"d":10.288,"v":29},{"d":10.288,"v":27.5},{"d":10.288,"v":26},{"d":10.288,"v":24.6},{"d":10.288,"v":23},{"d":10.288,"v":21.5},{"d":10.288,"v":19.6},{"d":10.288,"v":18},
{"d":10.27,"v":20.4},{"d":10.27,"v":19.2},{"d":10.3,"v":22.8},{"d":10.3,"v":21.6},{"d":10.315,"v":22.4},{"d":10.315,"v":21.2},{"d":10.33,"v":22},{"d":10.33,"v":20.8},{"d":10.345,"v":21.6},{"d":10.345,"v":20.4},{"d":10.36,"v":21.2},{"d":10.36,"v":20},{"d":10.375,"v":21},{"d":10.375,"v":19.8},{"d":10.39,"v":21.4},{"d":10.39,"v":20.2},{"d":10.405,"v":21},{"d":10.405,"v":19.8},{"d":10.42,"v":20.8},{"d":10.42,"v":19.6},{"d":10.435,"v":21.2},{"d":10.435,"v":20},{"d":10.45,"v":20.8},{"d":10.45,"v":19.6},{"d":10.465,"v":20.6},{"d":10.465,"v":19.4},{"d":10.48,"v":21},{"d":10.48,"v":19.8},{"d":10.495,"v":20.6},{"d":10.495,"v":19.4},{"d":10.51,"v":20.4},{"d":10.51,"v":19.2},{"d":10.525,"v":20.6},{"d":10.525,"v":19.4},{"d":10.54,"v":23.4},{"d":10.54,"v":20.2},{"d":10.555,"v":20.2},{"d":10.555,"v":19},{"d":10.57,"v":20.4},{"d":10.57,"v":19.2},{"d":10.585,"v":20},{"d":10.585,"v":18.8},{"d":10.6,"v":19.6},{"d":10.6,"v":18.4},{"d":10.615,"v":19.8},{"d":10.615,"v":18.6},{"d":10.63,"v":19.4},{"d":10.63,"v":18.2},{"d":10.645,"v":18.8},{"d":10.645,"v":17.6},{"d":10.66,"v":18.2},{"d":10.66,"v":17},{"d":10.672,"v":18.6},{"d":10.672,"v":17.4},{"d":10.68,"v":18},{"d":10.68,"v":17},
{"d":10.897,"v":37},{"d":10.897,"v":33.3},{"d":10.897,"v":27.6},{"d":10.897,"v":25.4},{"d":10.897,"v":24.2},{"d":10.897,"v":21.3},{"d":10.897,"v":19.1},{"d":10.897,"v":17.5},{"d":10.897,"v":16.5},{"d":10.897,"v":15.2},{"d":10.897,"v":14},{"d":10.897,"v":12.8},{"d":10.897,"v":11.6},
{"d":10.905,"v":13},{"d":10.905,"v":12},{"d":10.905,"v":11},{"d":10.92,"v":12.8},{"d":10.92,"v":11.6},{"d":10.935,"v":13.6},{"d":10.935,"v":12.2},{"d":10.95,"v":14.2},{"d":10.95,"v":12.8},{"d":10.965,"v":13.4},{"d":10.965,"v":12},{"d":10.98,"v":12.6},{"d":10.98,"v":11},{"d":10.995,"v":12.4},{"d":10.995,"v":11.2},{"d":11.01,"v":13},{"d":11.01,"v":11.8},{"d":11.025,"v":12},{"d":11.025,"v":10.8},{"d":11.04,"v":11.2},{"d":11.04,"v":10},{"d":11.055,"v":10.6},{"d":11.055,"v":9.4},{"d":11.07,"v":10.2},{"d":11.07,"v":9},{"d":11.085,"v":9.6},{"d":11.085,"v":8.6},{"d":11.1,"v":8.8},{"d":11.1,"v":7.8},
{"d":11.124,"v":25},{"d":11.124,"v":24},{"d":11.124,"v":23},{"d":11.124,"v":22},{"d":11.124,"v":19},{"d":11.124,"v":17.5},{"d":11.124,"v":16},{"d":11.124,"v":14.5},{"d":11.124,"v":13},
{"d":11.128,"v":12},{"d":11.128,"v":10.5},{"d":11.128,"v":9},{"d":11.128,"v":8},{"d":11.14,"v":14},{"d":11.14,"v":12.6},{"d":11.155,"v":14.6},{"d":11.155,"v":13.2},{"d":11.17,"v":14.8},{"d":11.17,"v":13.4},{"d":11.185,"v":14.2},{"d":11.185,"v":12.8},{"d":11.2,"v":13.4},{"d":11.2,"v":12},{"d":11.215,"v":12.6},{"d":11.215,"v":11.2},{"d":11.23,"v":11.8},{"d":11.23,"v":10.4},{"d":11.245,"v":10.6},{"d":11.245,"v":9.4},{"d":11.26,"v":9.8},{"d":11.26,"v":8.8},{"d":11.275,"v":9.2},{"d":11.275,"v":8.2},{"d":11.29,"v":8.8},{"d":11.29,"v":7.8},{"d":11.305,"v":8},{"d":11.305,"v":6.8},{"d":11.32,"v":8.4},{"d":11.32,"v":7.2},{"d":11.335,"v":8.2},{"d":11.335,"v":7},{"d":11.35,"v":7.8},{"d":11.35,"v":6.8},{"d":11.365,"v":7.6},{"d":11.365,"v":6.4},{"d":11.38,"v":7.4},{"d":11.38,"v":6.4},{"d":11.395,"v":7},{"d":11.395,"v":6},{"d":11.41,"v":6.8},{"d":11.41,"v":5.8},{"d":11.42,"v":6.6},{"d":11.42,"v":5.8},
{"d":11.424,"v":31.5},{"d":11.424,"v":30},{"d":11.424,"v":28.5},{"d":11.424,"v":27},{"d":11.424,"v":16.1},{"d":11.424,"v":14.5},{"d":11.424,"v":13},{"d":11.424,"v":11.5},
{"d":11.43,"v":31},{"d":11.43,"v":29.5},{"d":11.43,"v":28},{"d":11.43,"v":26.6},{"d":11.44,"v":25.5},{"d":11.44,"v":24.2},{"d":11.45,"v":23.4},{"d":11.45,"v":22.4},{"d":11.46,"v":21.8},{"d":11.46,"v":21},{"d":11.47,"v":20.6},{"d":11.47,"v":19.8},{"d":11.48,"v":19.6},{"d":11.48,"v":18.6},{"d":11.495,"v":18.6},{"d":11.495,"v":17.6},{"d":11.51,"v":18},{"d":11.51,"v":17},{"d":11.525,"v":17.6},{"d":11.525,"v":16.6},{"d":11.54,"v":17.4},{"d":11.54,"v":16.2},{"d":11.555,"v":17.2},{"d":11.555,"v":16},{"d":11.57,"v":17},{"d":11.57,"v":15.8},{"d":11.585,"v":17},{"d":11.585,"v":15.8},{"d":11.6,"v":16.8},{"d":11.6,"v":15.6},{"d":11.615,"v":16.8},{"d":11.615,"v":15.6},{"d":11.63,"v":16.4},{"d":11.63,"v":15.2},{"d":11.645,"v":16.2},{"d":11.645,"v":15},{"d":11.66,"v":16},{"d":11.66,"v":14.8},{"d":11.675,"v":15.8},{"d":11.675,"v":14.6},{"d":11.69,"v":15.6},{"d":11.69,"v":14.4},{"d":11.705,"v":15.4},{"d":11.705,"v":14.2},{"d":11.72,"v":15},{"d":11.72,"v":13.8},{"d":11.735,"v":14.8},{"d":11.735,"v":13.6},{"d":11.75,"v":14.6},{"d":11.75,"v":13.4},{"d":11.765,"v":14.6},{"d":11.765,"v":13.4},{"d":11.78,"v":14.4},{"d":11.78,"v":13.2},{"d":11.795,"v":14.2},{"d":11.795,"v":13},{"d":11.81,"v":14.2},{"d":11.81,"v":13},{"d":11.825,"v":14},{"d":11.825,"v":12.8},{"d":11.84,"v":13.8},{"d":11.84,"v":12.6},{"d":11.855,"v":13.8},{"d":11.855,"v":12.6},{"d":11.87,"v":13.6},{"d":11.87,"v":12.4},{"d":11.885,"v":13.6},{"d":11.885,"v":12.4},{"d":11.9,"v":13.4},{"d":11.9,"v":12.2},{"d":11.915,"v":13.4},{"d":11.915,"v":12.2},{"d":11.93,"v":13.2},{"d":11.93,"v":12},{"d":11.945,"v":13.4},{"d":11.945,"v":12.2},{"d":11.96,"v":13.2},{"d":11.96,"v":12},{"d":11.975,"v":13},{"d":11.975,"v":11.8},{"d":11.99,"v":12.8},{"d":11.99,"v":11.6},{"d":12.005,"v":12.6},{"d":12.005,"v":11.4},{"d":12.02,"v":12.2},{"d":12.02,"v":11},{"d":12.035,"v":11.8},{"d":12.035,"v":10.6},{"d":12.05,"v":11.2},{"d":12.05,"v":10},{"d":12.065,"v":10.6},{"d":12.065,"v":9.6},{"d":12.08,"v":10.2},{"d":12.08,"v":9.2},{"d":12.095,"v":10},{"d":12.095,"v":9},{"d":12.1,"v":13.6},{"d":12.11,"v":9.8},{"d":12.11,"v":8.8},{"d":12.125,"v":9.8},{"d":12.125,"v":8.8},{"d":12.14,"v":9.6},{"d":12.14,"v":8.6},{"d":12.155,"v":9.6},{"d":12.155,"v":8.6},{"d":12.17,"v":9.4},{"d":12.17,"v":8.4},{"d":12.185,"v":9.4},{"d":12.185,"v":8.4},{"d":12.2,"v":9.2},{"d":12.2,"v":8.2},{"d":12.215,"v":9.2},{"d":12.215,"v":8.2},{"d":12.23,"v":9},{"d":12.23,"v":8},{"d":12.245,"v":8.8},{"d":12.245,"v":7.8},{"d":12.26,"v":8.8},{"d":12.26,"v":7.8},{"d":12.275,"v":8.6},{"d":12.275,"v":7.6},{"d":12.29,"v":8.4},{"d":12.29,"v":7.4},{"d":12.305,"v":8.4},{"d":12.305,"v":7.2},{"d":12.32,"v":8},{"d":12.32,"v":7},{"d":12.335,"v":7.8},{"d":12.335,"v":6.6},{"d":12.35,"v":7.4},{"d":12.35,"v":6.2},{"d":12.365,"v":7},{"d":12.365,"v":6},{"d":12.38,"v":6.8},{"d":12.38,"v":5.8},{"d":12.395,"v":6.6},{"d":12.395,"v":5.6},{"d":12.41,"v":7.6},{"d":12.41,"v":6.4},{"d":12.425,"v":8.6},{"d":12.425,"v":7.4},{"d":12.44,"v":7},{"d":12.44,"v":5.8},{"d":12.455,"v":5.6},{"d":12.455,"v":4.4},
{"d":12.468,"v":23.4},{"d":12.468,"v":22},{"d":12.468,"v":20},{"d":12.468,"v":18},{"d":12.468,"v":12.4},{"d":12.468,"v":11},{"d":12.468,"v":9.5},{"d":12.468,"v":8.7},
{"d":12.47,"v":6},{"d":12.47,"v":4.8},{"d":12.47,"v":3.8},{"d":12.485,"v":6.2},{"d":12.485,"v":5},{"d":12.5,"v":6.6},{"d":12.5,"v":5.4},{"d":12.5,"v":4},{"d":12.515,"v":6.4},{"d":12.515,"v":5.2},{"d":12.53,"v":6.6},{"d":12.53,"v":5.4},{"d":12.53,"v":4},{"d":12.545,"v":6.2},{"d":12.545,"v":5},{"d":12.56,"v":6.6},{"d":12.56,"v":5.2},{"d":12.56,"v":4},{"d":12.575,"v":6.4},{"d":12.575,"v":5},{"d":12.59,"v":6.8},{"d":12.59,"v":5.4},{"d":12.605,"v":6.6},{"d":12.605,"v":5},{"d":12.605,"v":4},{"d":12.615,"v":7},{"d":12.615,"v":5.8},
{"d":12.625,"v":28},{"d":12.625,"v":27.4},{"d":12.625,"v":24.2},{"d":12.625,"v":22.5},{"d":12.625,"v":21},{"d":12.625,"v":20},{"d":12.625,"v":19},{"d":12.625,"v":18},{"d":12.625,"v":16.9},{"d":12.625,"v":13.6},{"d":12.625,"v":12.4},
{"d":12.635,"v":21},{"d":12.635,"v":19.8},{"d":12.65,"v":18.4},{"d":12.65,"v":17.2},{"d":12.665,"v":16.2},{"d":12.665,"v":15},{"d":12.68,"v":15.4},{"d":12.68,"v":14.4},{"d":12.695,"v":15},{"d":12.695,"v":13.8},{"d":12.71,"v":14.8},{"d":12.71,"v":13.6},{"d":12.725,"v":15},{"d":12.725,"v":13.8},{"d":12.74,"v":15.2},{"d":12.74,"v":14},{"d":12.755,"v":15.2},{"d":12.755,"v":14},{"d":12.77,"v":15},{"d":12.77,"v":13.8},{"d":12.785,"v":15},{"d":12.785,"v":13.8},{"d":12.8,"v":14.8},{"d":12.8,"v":13.6},{"d":12.815,"v":14.8},{"d":12.815,"v":13.6},{"d":12.83,"v":14.6},{"d":12.83,"v":13.4},{"d":12.845,"v":14.6},{"d":12.845,"v":13.4},{"d":12.86,"v":14.4},{"d":12.86,"v":13.2},{"d":12.875,"v":14.2},{"d":12.875,"v":13},{"d":12.89,"v":14.2},{"d":12.89,"v":13},{"d":12.905,"v":14},{"d":12.905,"v":12.8},{"d":12.92,"v":13.4},{"d":12.92,"v":12.2},{"d":12.935,"v":13},{"d":12.935,"v":11.8},{"d":12.95,"v":12.4},{"d":12.95,"v":11.4},{"d":12.965,"v":12},{"d":12.965,"v":11},{"d":12.98,"v":11.6},{"d":12.98,"v":10.6},{"d":12.996,"v":13.6},{"d":12.995,"v":11.2},{"d":12.995,"v":10.2},{"d":13.01,"v":11},{"d":13.01,"v":10},{"d":13.025,"v":10.8},{"d":13.025,"v":9.8},{"d":13.04,"v":10.6},{"d":13.04,"v":9.6},{"d":13.055,"v":10.4},{"d":13.055,"v":9.4},{"d":13.07,"v":10},{"d":13.07,"v":9},{"d":13.085,"v":9.8},{"d":13.085,"v":8.8},{"d":13.1,"v":9.6},{"d":13.1,"v":8.4},{"d":13.115,"v":9.2},{"d":13.115,"v":8.2},{"d":13.13,"v":9},{"d":13.13,"v":7.8},{"d":13.145,"v":8.8},{"d":13.145,"v":7.6},{"d":13.16,"v":8.4},{"d":13.16,"v":7.4},{"d":13.175,"v":8.4},{"d":13.175,"v":7.2},{"d":13.19,"v":8.8},{"d":13.19,"v":7.6},{"d":13.205,"v":9.2},{"d":13.205,"v":8},{"d":13.22,"v":8.6},{"d":13.22,"v":7.4},{"d":13.235,"v":8.2},{"d":13.235,"v":7},{"d":13.25,"v":7.8},{"d":13.25,"v":6.8},{"d":13.265,"v":7.6},{"d":13.265,"v":6.6},{"d":13.28,"v":8},{"d":13.28,"v":6.8},{"d":13.295,"v":8.4},{"d":13.295,"v":7.2},
{"d":13.304,"v":20.5},{"d":13.304,"v":19.2},{"d":13.304,"v":18.1},{"d":13.304,"v":16.1},{"d":13.304,"v":14.5},{"d":13.304,"v":12.8},{"d":13.304,"v":10.8},{"d":13.304,"v":9},{"d":13.304,"v":7},{"d":13.304,"v":5.5},{"d":13.304,"v":3.8},
{"d":13.315,"v":8},{"d":13.315,"v":6.8},{"d":13.315,"v":5},{"d":13.33,"v":7.6},{"d":13.33,"v":6.4},{"d":13.345,"v":8},{"d":13.345,"v":6.8},{"d":13.345,"v":5.6},{"d":13.36,"v":8.4},{"d":13.36,"v":7.2},{"d":13.36,"v":6},{"d":13.375,"v":8.4},{"d":13.375,"v":7},
{"d":13.57,"v":24.5},{"d":13.57,"v":23},{"d":13.57,"v":21.5},{"d":13.57,"v":20},{"d":13.57,"v":18.5},{"d":13.57,"v":16.9},{"d":13.57,"v":15.3},{"d":13.57,"v":13.7},{"d":13.57,"v":12},{"d":13.57,"v":10.4},{"d":13.58,"v":25.5},{"d":13.58,"v":24},{"d":13.58,"v":22.5},{"d":13.58,"v":21},{"d":13.58,"v":19.5},{"d":13.592,"v":26.2},{"d":13.592,"v":25},{"d":13.592,"v":23.8},{"d":13.592,"v":22.6},{"d":13.592,"v":21.4},{"d":13.605,"v":24.4},{"d":13.605,"v":23.2},{"d":13.605,"v":22},{"d":13.605,"v":20.6},{"d":13.62,"v":23},{"d":13.62,"v":21.8},{"d":13.62,"v":20.6},{"d":13.635,"v":21.6},{"d":13.635,"v":20.4},{"d":13.65,"v":20.6},{"d":13.65,"v":19.4},{"d":13.665,"v":20.4},{"d":13.665,"v":19.2},{"d":13.68,"v":20},{"d":13.68,"v":18.8},{"d":13.695,"v":19.4},{"d":13.695,"v":18.2},{"d":13.71,"v":18.8},{"d":13.71,"v":17.6},{"d":13.725,"v":18.4},{"d":13.725,"v":17.2},{"d":13.74,"v":17.8},{"d":13.74,"v":16.6},{"d":13.755,"v":17.2},{"d":13.755,"v":16},{"d":13.77,"v":16.8},{"d":13.77,"v":15.6},{"d":13.785,"v":16.4},{"d":13.785,"v":15.2},{"d":13.8,"v":16.2},{"d":13.8,"v":15},{"d":13.815,"v":15.8},{"d":13.815,"v":14.6},{"d":13.83,"v":15.6},{"d":13.83,"v":14.4},{"d":13.845,"v":15.4},{"d":13.845,"v":14.2},{"d":13.86,"v":15},{"d":13.86,"v":13.8},
{"d":13.885,"v":39.8},{"d":13.885,"v":38.2},{"d":13.885,"v":36.5},{"d":13.885,"v":27},{"d":13.885,"v":25.8},{"d":13.885,"v":24.5},{"d":13.885,"v":22.5},{"d":13.885,"v":19.3},{"d":13.885,"v":13.6},{"d":13.885,"v":12},{"d":13.885,"v":10.4},{"d":13.885,"v":8.7},
{"d":13.9,"v":15.6},{"d":13.9,"v":14.4},{"d":13.915,"v":16.8},{"d":13.915,"v":15.6},{"d":13.93,"v":15.8},{"d":13.93,"v":14.6},{"d":13.945,"v":15.4},{"d":13.945,"v":14.2},{"d":13.96,"v":16.2},{"d":13.96,"v":15},{"d":13.975,"v":16.6},{"d":13.975,"v":15.4},{"d":13.99,"v":15.2},{"d":13.99,"v":14},{"d":13.99,"v":13},
{"d":14.012,"v":31},{"d":14.012,"v":29},{"d":14.012,"v":27.5},{"d":14.012,"v":26},{"d":14.012,"v":24.5},{"d":14.012,"v":23},{"d":14.012,"v":21.5},{"d":14.012,"v":20.1},
{"d":14.025,"v":15.6},{"d":14.025,"v":14.2},{"d":14.04,"v":15.4},{"d":14.04,"v":14.2},{"d":14.055,"v":15.2},{"d":14.055,"v":14},{"d":14.07,"v":15},{"d":14.07,"v":13.8},{"d":14.085,"v":14.8},{"d":14.085,"v":13.6},{"d":14.1,"v":15},{"d":14.1,"v":13.8},{"d":14.115,"v":14.6},{"d":14.115,"v":13.4},{"d":14.13,"v":14.4},{"d":14.13,"v":13.2},{"d":14.145,"v":14},{"d":14.145,"v":12.8},{"d":14.16,"v":13.6},{"d":14.16,"v":12.4},{"d":14.175,"v":13.2},{"d":14.175,"v":12},{"d":14.19,"v":12.8},{"d":14.19,"v":11.6},{"d":14.205,"v":12.4},{"d":14.205,"v":11.2},{"d":14.22,"v":12},{"d":14.22,"v":10.8},{"d":14.235,"v":11.6},{"d":14.235,"v":10.4},{"d":14.25,"v":11.2},{"d":14.25,"v":10},{"d":14.265,"v":10.6},{"d":14.265,"v":9.4},{"d":14.28,"v":10.2},{"d":14.28,"v":9},{"d":14.295,"v":10},{"d":14.295,"v":8.8},{"d":14.31,"v":10.2},{"d":14.31,"v":9},{"d":14.325,"v":10.6},{"d":14.325,"v":9.4},
{"d":14.339,"v":25.8},{"d":14.339,"v":24.5},{"d":14.339,"v":23},{"d":14.339,"v":21.5},{"d":14.339,"v":19.8},{"d":14.339,"v":18},{"d":14.339,"v":16.5},{"d":14.339,"v":15},{"d":14.339,"v":13.5},{"d":14.339,"v":12},{"d":14.339,"v":10.5},{"d":14.339,"v":8.3},
{"d":14.35,"v":10.8},{"d":14.35,"v":9.6},{"d":14.365,"v":11.2},{"d":14.365,"v":10},{"d":14.38,"v":11.4},{"d":14.38,"v":10.2},{"d":14.395,"v":11},{"d":14.395,"v":9.8},{"d":14.41,"v":10.6},{"d":14.41,"v":9.4},{"d":14.425,"v":10},{"d":14.425,"v":8.8},{"d":14.44,"v":9.6},{"d":14.44,"v":8.4},{"d":14.455,"v":9.2},{"d":14.455,"v":8},{"d":14.47,"v":9.8},{"d":14.47,"v":8.6},{"d":14.485,"v":10.8},{"d":14.485,"v":9.6},{"d":14.5,"v":11.2},{"d":14.5,"v":10},{"d":14.515,"v":10.6},{"d":14.515,"v":9.4},{"d":14.53,"v":9.8},{"d":14.53,"v":8.6},{"d":14.545,"v":9.2},{"d":14.545,"v":8},{"d":14.56,"v":9},{"d":14.56,"v":7.8},{"d":14.575,"v":9.2},{"d":14.575,"v":8},{"d":14.59,"v":8.8},{"d":14.59,"v":7.6},{"d":14.605,"v":8.6},{"d":14.605,"v":7.4},{"d":14.62,"v":8.8},{"d":14.62,"v":7.6},{"d":14.635,"v":9},{"d":14.635,"v":7.8},{"d":14.65,"v":8.6},{"d":14.65,"v":7.4},{"d":14.665,"v":8.4},{"d":14.665,"v":7.2},{"d":14.667,"v":11.2},{"d":14.68,"v":8.4},{"d":14.68,"v":7.2},{"d":14.695,"v":8.2},{"d":14.695,"v":7},{"d":14.71,"v":8},{"d":14.71,"v":6.8},{"d":14.725,"v":8},{"d":14.725,"v":6.8},{"d":14.74,"v":7.8},{"d":14.74,"v":6.6},{"d":14.755,"v":7.6},{"d":14.755,"v":6.4},{"d":14.77,"v":7.4},{"d":14.77,"v":6.2},{"d":14.785,"v":7.2},{"d":14.785,"v":5.8},{"d":14.8,"v":6.4},{"d":14.8,"v":5},
{"d":14.811,"v":26},{"d":14.811,"v":23.4},{"d":14.811,"v":19.1},{"d":14.811,"v":15.8},{"d":14.811,"v":15},{"d":14.811,"v":14.2},{"d":14.811,"v":12.2},{"d":14.811,"v":11},{"d":14.811,"v":9.8},
{"d":14.825,"v":7.8},{"d":14.825,"v":6.6},{"d":14.84,"v":8.2},{"d":14.84,"v":7},{"d":14.855,"v":7.8},{"d":14.855,"v":6.6},{"d":14.87,"v":7.4},{"d":14.87,"v":6.2},{"d":14.876,"v":10.8},{"d":14.885,"v":7},{"d":14.885,"v":5.6},{"d":14.9,"v":6.8},{"d":14.9,"v":5.4},{"d":14.915,"v":7},{"d":14.915,"v":5.8},{"d":14.93,"v":6.6},{"d":14.93,"v":5.2},{"d":14.945,"v":6.2},{"d":14.945,"v":4.8},{"d":14.96,"v":6.8},{"d":14.96,"v":5.6},{"d":14.975,"v":6.6},{"d":14.975,"v":5.2},{"d":14.99,"v":6},{"d":14.99,"v":4.6},{"d":15.005,"v":6.4},{"d":15.005,"v":5.2},{"d":15.02,"v":6},{"d":15.02,"v":4.6},{"d":15.035,"v":6.2},{"d":15.035,"v":5},{"d":15.05,"v":5.8},{"d":15.05,"v":4.6},{"d":15.065,"v":5.6},{"d":15.065,"v":4.4},{"d":15.08,"v":5.8},{"d":15.08,"v":4.6},
{"d":15.085,"v":27.8},{"d":15.085,"v":26.5},{"d":15.085,"v":25},{"d":15.085,"v":23.8},{"d":15.085,"v":13.4},{"d":15.085,"v":12.6},
{"d":15.092,"v":22},{"d":15.092,"v":20.8},{"d":15.1,"v":20.2},{"d":15.1,"v":19},{"d":15.11,"v":19},{"d":15.11,"v":17.8},{"d":15.12,"v":18.2},{"d":15.12,"v":17},{"d":15.135,"v":17.4},{"d":15.135,"v":16.2},{"d":15.15,"v":17},{"d":15.15,"v":15.8},{"d":15.165,"v":16.6},{"d":15.165,"v":15.4},{"d":15.18,"v":16.2},{"d":15.18,"v":15},{"d":15.195,"v":15.8},{"d":15.195,"v":14.6},{"d":15.21,"v":15.2},{"d":15.21,"v":14},{"d":15.225,"v":14.6},{"d":15.225,"v":13.4},{"d":15.24,"v":13.8},{"d":15.24,"v":12.6},{"d":15.255,"v":12.6},{"d":15.255,"v":11.4},{"d":15.268,"v":11.4},{"d":15.268,"v":10},{"d":15.268,"v":8.8},{"d":15.28,"v":12},{"d":15.28,"v":10.8},{"d":15.295,"v":13},{"d":15.295,"v":11.8},{"d":15.31,"v":15},{"d":15.31,"v":13.6},{"d":15.32,"v":18.5},{"d":15.32,"v":17.2},{"d":15.32,"v":16},{"d":15.335,"v":17},{"d":15.335,"v":15.8},{"d":15.35,"v":16.4},{"d":15.35,"v":15.2},{"d":15.365,"v":15.6},{"d":15.365,"v":14.4},{"d":15.38,"v":15.2},{"d":15.38,"v":14},{"d":15.395,"v":15},{"d":15.395,"v":13.8},{"d":15.41,"v":14.6},{"d":15.41,"v":13.4},{"d":15.41,"v":11.6},{"d":15.425,"v":15},{"d":15.425,"v":13.8},{"d":15.44,"v":14.8},{"d":15.44,"v":13.6},{"d":15.455,"v":14.6},{"d":15.455,"v":13.4},{"d":15.47,"v":14.4},{"d":15.47,"v":13.2},{"d":15.485,"v":14.2},{"d":15.485,"v":13},{"d":15.5,"v":14},{"d":15.5,"v":12.8},{"d":15.515,"v":13.8},{"d":15.515,"v":12.6},{"d":15.53,"v":13.6},{"d":15.53,"v":12.4},{"d":15.545,"v":13.2},{"d":15.545,"v":12},{"d":15.557,"v":14.4},{"d":15.56,"v":12.8},{"d":15.56,"v":11.6},{"d":15.572,"v":11},{"d":15.572,"v":9.5},{"d":15.572,"v":8},{"d":15.572,"v":6.5},{"d":15.572,"v":4.6}
],
"up": [{"d":10.81,"v":63.9},{"d":13.442,"v":63.8}],
"down": [{"d":14.875,"v":86.7}],
"notes": [
{"d":10.83,"v":55.6,"t":"Load R600"},
{"d":13.5,"v":55.6,"t":"Replace FQ10"},
{"d":13.5,"v":52.5,"t":"Rupture Disk"},
{"d":14.875,"v":102.0,"t":"System Pressure"},
{"d":14.875,"v":98.9,"t":"Raised"},
{"d":14.875,"v":95.9,"t":"High FQ20 dP"}
]
},
"encoding": {
  "x": {"field": "d", "type": "quantitative", "title": "September 2012", "scale": {"domain": [8.67, 16], "nice": false, "zero": false},
        "axis": {"values": [9,10,11,12,13,14,15,16], "labelExpr": "['Sun 09','Mon 10','Tue 11','Wed 12','Thu 13','Fri 14','Sat 15','Sun 16'][datum.value - 9]", "tickSize": -12, "labelPadding": 31, "labelOffset": -10, "titlePadding": 29, "titleFontSize": 40}}
},
"layer": [
{
  "data": {"name": "redband"},
  "mark": {"type": "point", "filled": true, "opacity": 1, "size": 200, "clip": true},
  "encoding": {
    "y": {"field": "v", "type": "quantitative", "title": "Pressure, kPa", "scale": {"domain": [0, 110], "nice": false},
          "axis": {"orient": "left", "values": [0,5,10,15,20,25,30,35,40,45,50,55,60,65,70,75,80,85,90,95,100,105], "labelExpr": "datum.value % 20 == 0 ? datum.label : ''", "tickSize": -12, "labelPadding": 32, "titlePadding": 22,
                   "grid": true, "gridColor": "#c0c0c0", "gridWidth": 2.5, "gridDash": [17, 8], "gridOpacity": {"condition": {"test": "datum.value % 20 == 0 && datum.value > 0", "value": 1}, "value": 0}}},
    "color": {"datum": "Fluid Bed Gasifier Freeboard", "type": "nominal", "scale": {"domain": ["Fluid Bed Gasifier Freeboard", "Blower inlet (PI860)", "R500 Fluid Bed Pressure Drop (PDI515)"], "range": ["#ff0000", "#0000ff", "#000000"]}},
    "shape": {"datum": "Fluid Bed Gasifier Freeboard", "type": "nominal", "scale": {"domain": ["Fluid Bed Gasifier Freeboard", "Blower inlet (PI860)", "R500 Fluid Bed Pressure Drop (PDI515)"], "range": ["triangle-down", "square", "M-10,0H10"]}}
  }
},
{
  "data": {"name": "pd"},
  "mark": {"type": "line", "strokeWidth": 3, "clip": true},
  "encoding": {
    "y": {"field": "p", "type": "quantitative", "title": "Pressure Drop, kPa", "scale": {"domain": [0, 10], "nice": false},
          "axis": {"orient": "right", "values": [0,1,2,3,4,5,6,7,8,9,10], "labelExpr": "datum.value % 2 == 0 ? datum.label : ''", "tickSize": -10, "labelPadding": 29, "titleAngle": -90, "titlePadding": 71}},
    "color": {"datum": "R500 Fluid Bed Pressure Drop (PDI515)", "type": "nominal",
      "scale": {"domain": ["Fluid Bed Gasifier Freeboard", "Blower inlet (PI860)", "R500 Fluid Bed Pressure Drop (PDI515)"], "range": ["#ff0000", "#0000ff", "#000000"]},
      "legend": {"orient": "none", "legendX": 16, "legendY": 24, "title": null, "labelFontSize": 36, "labelFont": "Liberation Sans", "labelColor": "black", "labelLimit": 0,
        "strokeColor": "black", "fillColor": "white", "padding": 18, "rowPadding": 8, "symbolSize": 64, "symbolOffset": 22, "labelOffset": 43,
        "encode": {"symbols": {"update": {"fill": {"scale": "color", "field": "value"}, "stroke": {"scale": "color", "field": "value"}, "strokeWidth": {"signal": "datum.value == 'R500 Fluid Bed Pressure Drop (PDI515)' ? 1.5 : 0"}, "opacity": {"value": 1}, "size": {"value": 64}}},
                   "legend": {"update": {"strokeWidth": {"value": 2}}}}}}
  }
},
{
  "data": {"name": "redout"},
  "mark": {"type": "point", "filled": true, "opacity": 1, "size": 90, "clip": true},
  "encoding": {
    "y": {"field": "v", "type": "quantitative", "scale": {"domain": [0, 110], "nice": false}, "axis": null},
    "color": {"datum": "Fluid Bed Gasifier Freeboard", "type": "nominal", "scale": {"domain": ["Fluid Bed Gasifier Freeboard", "Blower inlet (PI860)", "R500 Fluid Bed Pressure Drop (PDI515)"], "range": ["#ff0000", "#0000ff", "#000000"]}},
    "shape": {"datum": "Fluid Bed Gasifier Freeboard", "type": "nominal", "scale": {"domain": ["Fluid Bed Gasifier Freeboard", "Blower inlet (PI860)", "R500 Fluid Bed Pressure Drop (PDI515)"], "range": ["triangle-down", "square", "M-10,0H10"]}}
  }
},
{
  "data": {"name": "blue"},
  "mark": {"type": "point", "filled": true, "opacity": 1, "size": 64, "clip": true},
  "encoding": {
    "y": {"field": "v", "type": "quantitative", "scale": {"domain": [0, 110], "nice": false}, "axis": null},
    "color": {"datum": "Blower inlet (PI860)", "type": "nominal", "scale": {"domain": ["Fluid Bed Gasifier Freeboard", "Blower inlet (PI860)", "R500 Fluid Bed Pressure Drop (PDI515)"], "range": ["#ff0000", "#0000ff", "#000000"]}},
    "shape": {"datum": "Blower inlet (PI860)", "type": "nominal", "scale": {"domain": ["Fluid Bed Gasifier Freeboard", "Blower inlet (PI860)", "R500 Fluid Bed Pressure Drop (PDI515)"], "range": ["triangle-down", "square", "M-10,0H10"]}}
  }
},
{
  "data": {"name": "up"},
  "mark": {"type": "point", "shape": "M0,-1L0.82,-0.16L0.4,-0.16L0.4,1L-0.4,1L-0.4,-0.16L-0.82,-0.16Z", "size": 8100, "filled": true, "fill": "#4f81bd", "stroke": "#385d8a", "strokeWidth": 4, "opacity": 1},
  "encoding": {
    "y": {"field": "v", "type": "quantitative", "scale": {"domain": [0, 110], "nice": false}, "axis": null}
  }
},
{
  "data": {"name": "down"},
  "mark": {"type": "point", "shape": "M0,1L0.82,0.22L0.4,0.22L0.4,-1L-0.4,-1L-0.4,0.22L-0.82,0.22Z", "size": 8100, "filled": true, "fill": "#4f81bd", "stroke": "#385d8a", "strokeWidth": 4, "opacity": 1},
  "encoding": {
    "y": {"field": "v", "type": "quantitative", "scale": {"domain": [0, 110], "nice": false}, "axis": null}
  }
},
{
  "data": {"name": "notes"},
  "mark": {"type": "text", "fontSize": 22, "font": "Liberation Sans", "align": "center", "baseline": "middle", "color": "black"},
  "encoding": {
    "y": {"field": "v", "type": "quantitative", "scale": {"domain": [0, 110], "nice": false}, "axis": null},
    "text": {"field": "t", "type": "nominal"}
  }
}
],
"resolve": {"scale": {"y": "independent"}}
}
